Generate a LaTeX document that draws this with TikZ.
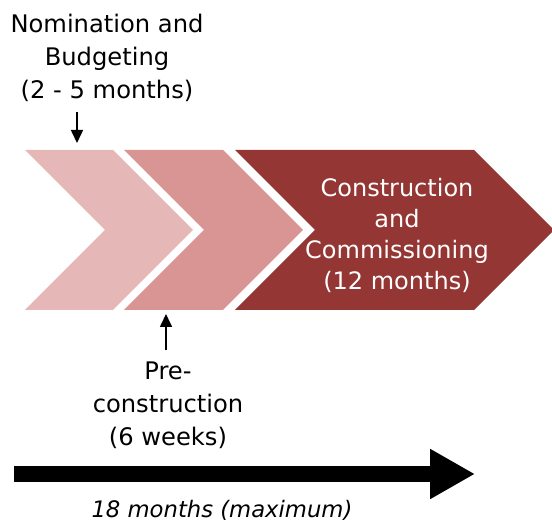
\documentclass[tikz,border=0pt]{standalone}
\usepackage{fontspec}
\setmainfont{DejaVu Sans}
\usetikzlibrary{arrows.meta}
\definecolor{chevlight}{HTML}{E5B8B7}
\definecolor{chevmid}{HTML}{D99594}
\definecolor{chevdark}{HTML}{943634}
\tikzset{
  phase label/.style={align=center, inner sep=0pt, text=black,
    font=\fontsize{24.2}{33}\selectfont},
  phase inside/.style={align=center, inner sep=0pt, text=white,
    font=\fontsize{24}{31}\selectfont},
  pointer/.style={line width=1.6pt, -{Triangle[length=13pt,width=12pt]}},
  timeline/.style={line width=16pt, -{Triangle[length=45pt,width=47pt]}},
}

\begin{document}
\begin{tikzpicture}[x=1pt, y=-1pt]
                        \useasboundingbox (0,0) rectangle (552,526);
                        \fill[chevlight] (25,150) -- (113,150) -- (193,230) -- (113,310) -- (25,310) -- (105,230) -- cycle;
                        \fill[chevmid] (124,150) -- (223,150) -- (303,230) -- (223,310) -- (124,310) -- (204,230) -- cycle;
                        \fill[chevdark] (235,150) -- (474,150) -- (554,230) -- (474,310) -- (235,310) -- (315,230) -- cycle;
                        \node[phase label] (nomination) at (107,58) {Nomination and\\Budgeting\\(2 - 5 months)};
                        \node[phase label] (precon) at (168,405) {Pre-\\construction\\(6 weeks)};
                        \node[phase inside] (construction) at (397,235) {Construction\\and\\Commissioning\\(12 months)};
                        \coordinate (nomtop) at (77,112);
                        \coordinate (nomtip) at (77,143);
                        \coordinate (pretop) at (166,350);
                        \coordinate (pretip) at (166,314);
                        \draw[pointer] (nomtop) -- (nomtip);
                        \draw[pointer] (pretop) -- (pretip);
                        \coordinate (start) at (14,474);
                        \coordinate (finish) at (475,474);
                        \draw[timeline] (start) -- (finish);
                        \node[anchor=base, font=\fontsize{22.7}{27}\selectfont\itshape] (duration) at (222,518) {18 months (maximum)};
                    \end{tikzpicture}
\end{document}
